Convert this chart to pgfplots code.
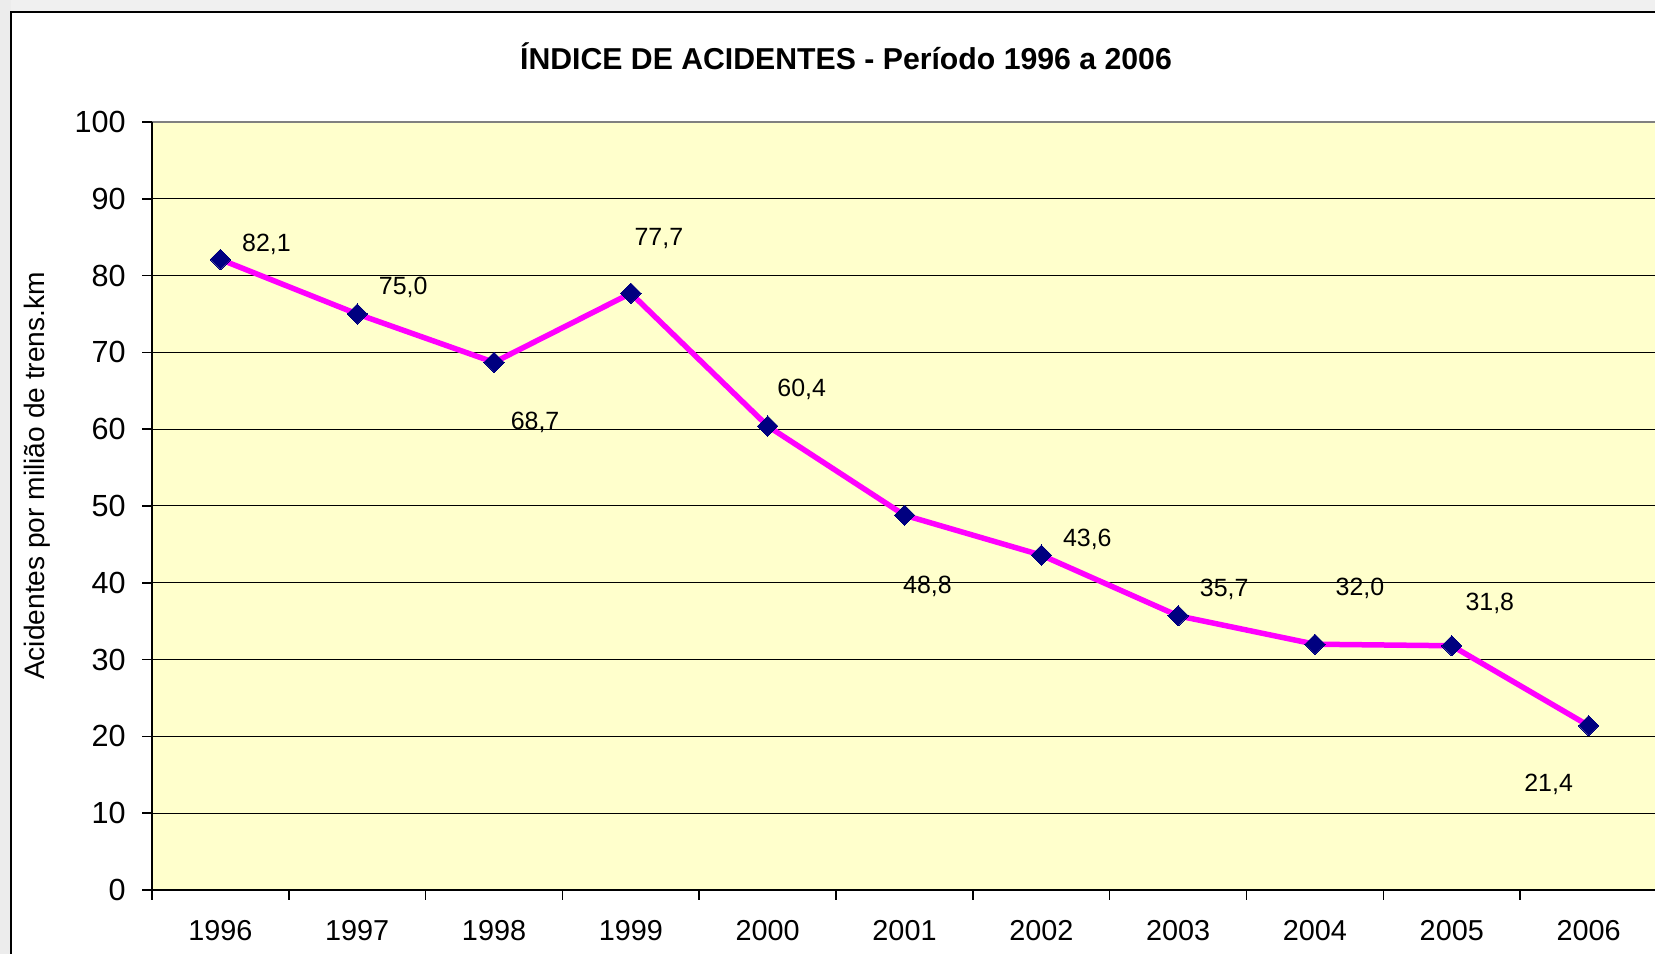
\documentclass[border=0pt]{standalone}
\usepackage{fontspec}
\setmainfont{Liberation Sans}
\usepackage{pgfplots}
\pgfplotsset{compat=1.18}
\usepackage{pgfplotstable}
\definecolor{plotbg}{HTML}{FFFFCC}
\definecolor{mag}{HTML}{FF00FF}
\definecolor{navyc}{HTML}{000080}

\pgfplotstableread{
x y dx dy
1996 82.1 4.6 1.5
1997 75.0 4.6 2.7
1998 68.7 4.1 -6.0
1999 77.7 2.8 5.5
2000 60.4 3.4 3.7
2001 48.8 2.3 -7.1
2002 43.6 4.6 1.6
2003 35.7 4.6 2.6
2004 32.0 4.5 5.6
2005 31.8 3.8 4.2
2006 21.4 -4.0 -5.9
}\datatable

\begin{document}
\begin{tikzpicture}[x=1mm,y=1mm]
\useasboundingbox (0,0) rectangle (165.5,95.4);
\clip (0,0) rectangle (165.5,95.4);
\fill[white] (0,0) rectangle (165.5,95.4);
\fill[gray!12] (0,94.2) rectangle (165.5,95.4);
\fill[gray!15] (0,0) rectangle (1.1,95.4);
\draw[line width=0.2mm] (1.1,0) -- (1.1,94.2) -- (165.5,94.2);
\begin{axis}[
  at={(15.2mm,6.4mm)}, anchor=south west,
  scale only axis, width=150.5mm, height=76.8mm,
  xmin=1995.5, xmax=2006.5, ymin=0, ymax=100,
  axis background/.style={fill=plotbg},
  axis line style={draw=none},
  clip=false,
  xtick pos=bottom, ytick pos=left,
  ytick={0,10,...,100},
  xtick={1995.5,1996.5,...,2006.5},
  xticklabels={},
  extra x ticks={1996,1997,1998,1999,2000,2001,2002,2003,2004,2005,2006},
  extra x tick labels={1996,1997,1998,1999,2000,2001,2002,2003,2004,2005,2006},
  extra x tick style={major tick length=0pt, xticklabel style={yshift=-1.8mm}},
  tick align=outside,
  major tick length=1mm,
  every tick/.style={black, line width=0.15mm},
  ymajorgrids,
  major grid style={black, line width=0.1mm},
  /pgf/number format/assume math mode=true,
  xticklabel style={font=\fontsize{8.2}{10}\selectfont},
  yticklabel style={font=\fontsize{8.7}{10}\selectfont, xshift=-0.4mm},
]
\addplot[mag, line width=0.55mm, mark=square*, mark size=0.72mm,
  mark options={draw=navyc, fill=navyc, rotate=45, line width=0pt},
  point meta=explicit,
  visualization depends on={\thisrow{dx} \as \dx},
  visualization depends on={\thisrow{dy} \as \dy},
  nodes near coords={\pgfmathprintnumber[fixed, fixed zerofill, precision=1, use comma]{\pgfplotspointmeta}},
  every node near coord/.append style={anchor=center, xshift=\dx mm, yshift=\dy mm, text=black, font=\fontsize{7.1}{8}\selectfont},
] table[x=x, y=y, meta=y] {\datatable};
\draw[gray, line width=0.25mm] (rel axis cs:0,1) -- (rel axis cs:1,1);
\draw[black, line width=0.2mm] (rel axis cs:0,1) -- (rel axis cs:0,0) -- (rel axis cs:1,0);
\end{axis}
\node[rotate=90, font=\fontsize{8.0}{10}\selectfont] at (3.7,47.8) {Acidentes por milião de trens.km};
\node[font=\bfseries\fontsize{8.6}{10}\selectfont] at (84.6,89.8) {ÍNDICE DE ACIDENTES - Período 1996 a 2006};
\end{tikzpicture}
\end{document}
